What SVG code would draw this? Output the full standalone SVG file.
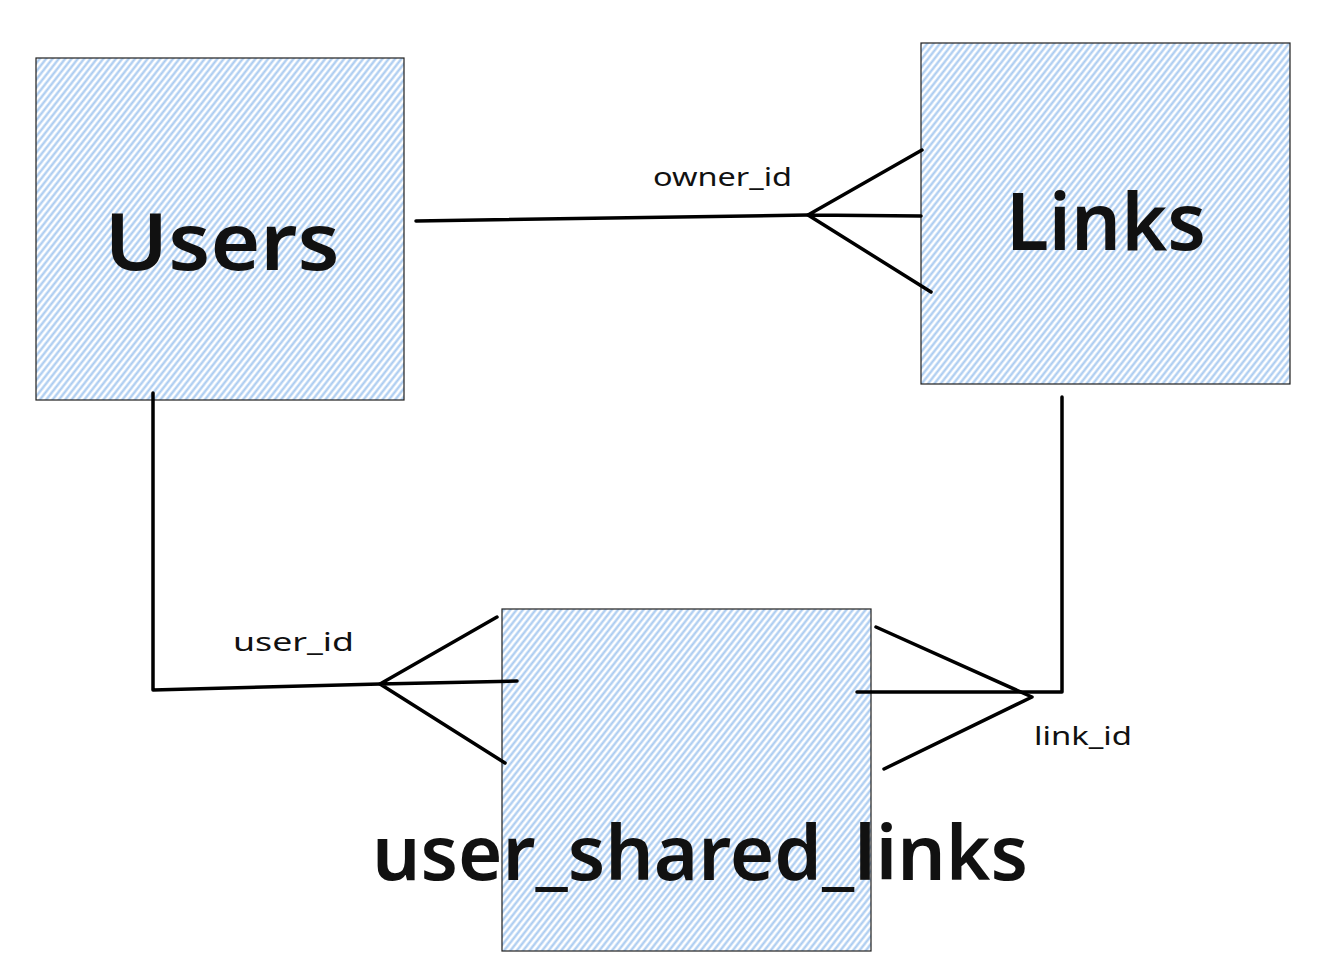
<svg xmlns="http://www.w3.org/2000/svg" width="1330" height="978" viewBox="0 0 1330 978">
<style>
.box{fill:url(#hatch);stroke:#1e1e1e;stroke-width:1.2}
.big{font-family:"Noto Sans","DejaVu Sans",sans-serif;fill:#111;font-weight:600}
.lbl{font-family:"Noto Sans","DejaVu Sans",sans-serif;fill:#111;font-size:26px}
.ln{fill:none;stroke:#000;stroke-width:3.5;stroke-linecap:round;stroke-linejoin:round}
</style>
<defs>
<pattern id="hatch" patternUnits="userSpaceOnUse" width="5" height="5" patternTransform="rotate(-52)">
<rect width="5" height="5" fill="#ffffff"/>
<line x1="0" y1="2.5" x2="5" y2="2.5" stroke="#a8caf0" stroke-width="2.2"/>
</pattern>
</defs>
<rect width="1330" height="978" fill="#ffffff"/>
<g id="users">
<rect class="box" x="36" y="58" width="368" height="342"/>
<text class="big" x="222" y="270" font-size="80" text-anchor="middle" textLength="235" lengthAdjust="spacingAndGlyphs">Users</text>
</g>
<g id="links">
<rect class="box" x="921" y="43" width="369" height="341"/>
<text class="big" x="1106" y="250" font-size="80" text-anchor="middle" textLength="200" lengthAdjust="spacingAndGlyphs">Links</text>
</g>
<g id="user_shared_links">
<rect class="box" x="502" y="609" width="369" height="342"/>
<text class="big" x="700" y="880" font-size="76" text-anchor="middle" textLength="656" lengthAdjust="spacingAndGlyphs">user_shared_links</text>
</g>
<g id="connectors">
<path class="ln" d="M416 221 L808 215"/>
<path class="ln" d="M922 150 L808 215 L921 216 M808 215 L931 292"/>
<path class="ln" d="M153 393 L153 690 L380 684"/>
<path class="ln" d="M497 617 L380 684 L517 681 M380 684 L505 763"/>
<path class="ln" d="M1062 397 L1062 692 L857 692"/>
<path class="ln" d="M876 627 L1032 697 L884 769"/>
</g>
<g id="labels">
<text class="lbl" x="653" y="186" textLength="139" lengthAdjust="spacingAndGlyphs">owner_id</text>
<text class="lbl" x="233" y="651" textLength="121" lengthAdjust="spacingAndGlyphs">user_id</text>
<text class="lbl" x="1034" y="745" textLength="98" lengthAdjust="spacingAndGlyphs">link_id</text>
</g>
</svg>
